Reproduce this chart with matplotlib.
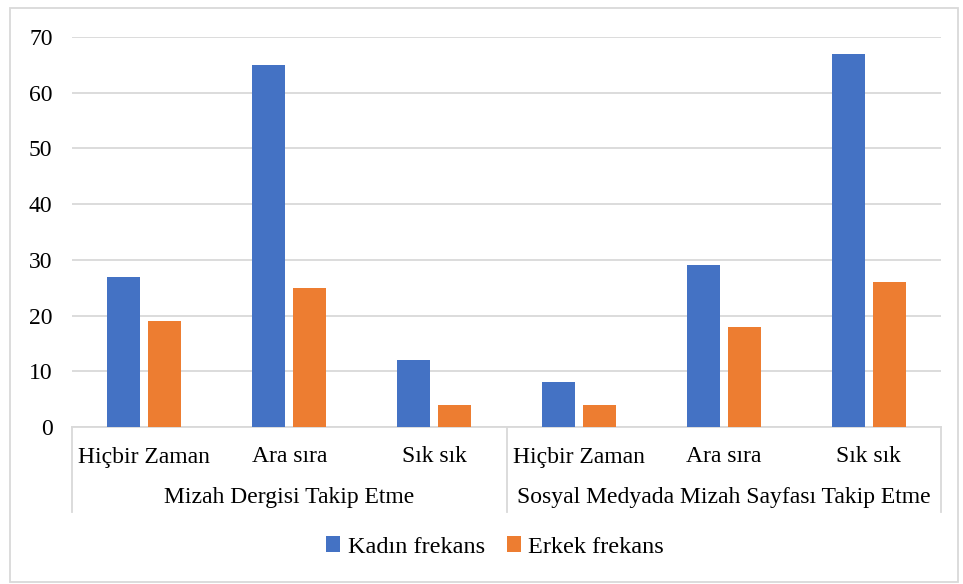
import numpy as np
import matplotlib.pyplot as plt
from matplotlib.patches import Rectangle

plt.rcParams['font.family'] = ['Liberation Serif', 'DejaVu Serif']

# data
groups = ['Mizah Dergisi Takip Etme', 'Sosyal Medyada Mizah Sayfası Takip Etme']
levels = ['Hiçbir Zaman', 'Ara sıra', 'Sık sık']
kadin = [27, 65, 12, 8, 29, 67]
erkek = [19, 25, 4, 4, 18, 26]
yticks = [0, 10, 20, 30, 40, 50, 60, 70]

blue = '#4472C4'
orange = '#ED7D31'
grid = '#d9d9d9'

W, H = 963, 584
fig = plt.figure(figsize=(W / 100, H / 100), dpi=100)
ax = fig.add_axes([72 / W, (H - 427) / H, (941 - 72) / W, (427 - 37) / H])

x = np.arange(len(kadin))
bw = 0.228
off = 0.1415
ax.bar(x - off, kadin, bw, color=blue, label='Kadın frekans', zorder=3)
ax.bar(x + off, erkek, bw, color=orange, label='Erkek frekans', zorder=3)

ax.set_xlim(-0.5, len(kadin) - 0.5)
ax.set_ylim(0, 70)
ax.set_yticks(yticks)
ax.yaxis.grid(True, color=grid, linewidth=1.3)
ax.set_axisbelow(True)
ax.tick_params(axis='y', length=0, pad=14, labelsize=17)
ax.set_xticks([])
for s in ['left', 'right', 'top']:
    ax.spines[s].set_visible(False)
ax.spines['bottom'].set_color(grid)
ax.spines['bottom'].set_linewidth(1.3)

# two-level category axis
ah = 427 - 37
trans = ax.get_xaxis_transform()
for i in range(len(kadin)):
    ax.text(i, -30 / ah, levels[i % 3], transform=trans, ha='center', va='center', fontsize=17)
for g, name in enumerate(groups):
    ax.text(g * 3 + 1, -71 / ah, name, transform=trans, ha='center', va='center', fontsize=17)
for xb in [-0.5, 2.5, 5.5]:
    ax.plot([xb, xb], [0, -85 / ah], transform=trans, color=grid, linewidth=1.3, clip_on=False)

fig.legend(loc='center', bbox_to_anchor=(495 / W, (H - 547) / H), ncol=2, frameon=False,
           fontsize=17.5, handlelength=0.6, handleheight=0.6, handletextpad=0.3, columnspacing=0.9)

fig.patches.append(Rectangle((10 / W, 2 / H), 948 / W, 574 / H, transform=fig.transFigure,
                             fill=False, edgecolor=grid, linewidth=1.3))

fig.savefig('out.png', dpi=100)
